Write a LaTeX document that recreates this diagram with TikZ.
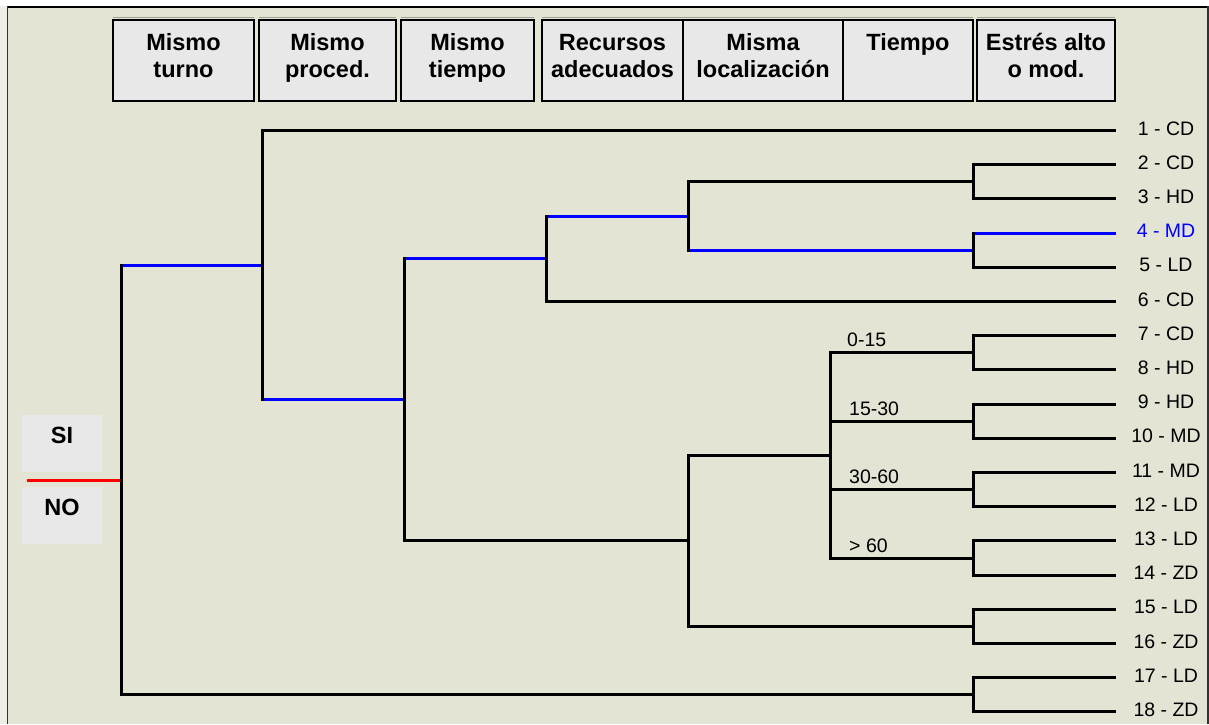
\documentclass[tikz,border=0pt]{standalone}
\usepackage{fontspec}
\setmainfont{Liberation Sans}
\usetikzlibrary{calc}
\definecolor{bg}{RGB}{228,228,212}
\definecolor{outer}{RGB}{238,238,228}
\definecolor{boxfill}{RGB}{232,232,232}
\definecolor{shadow}{RGB}{160,160,150}
\definecolor{treeblue}{RGB}{0,0,255}
\definecolor{treered}{RGB}{255,0,0}
\tikzset{
  hdrbox/.style={draw=black, line width=1.8pt, fill=boxfill, inner sep=0pt, minimum height=81pt},
  hdrtxt/.style={font=\fontsize{23.5}{27}\selectfont\bfseries, anchor=base, inner sep=0pt},
  sibox/.style={fill=boxfill, inner sep=0pt, minimum width=80pt, minimum height=57pt},
  leaftxt/.style={font=\fontsize{19.5}{22}\selectfont, anchor=base, inner sep=0pt},
  brtxt/.style={font=\fontsize{19.5}{22}\selectfont, anchor=base west, inner sep=0pt},
  edge/.style={line width=3pt, line cap=rect},
}
\begin{document}
\begin{tikzpicture}[x=1pt,y=-1pt]
\useasboundingbox (0,0) rectangle (1209,724);
% background and frame
\fill[outer] (0,0) rectangle (1209,724);
\fill[white] (0,0) rectangle (1209,6);
\fill[bg] (7,7) rectangle (1209,724);
\draw[black, line width=2pt] (7,6.5) -- (1209,6.5);
\draw[black!80, line width=1.2pt] (7.5,6) -- (7.5,724);
\draw[black!80, line width=1.2pt] (1208,6) -- (1208,724);

% header boxes
\foreach \n/\l/\r in {1/113/254, 2/259/396, 3/401/534, 4/542/683, 5/683/843, 6/843/973, 7/977/1115}{
  \draw[shadow, line width=1.5pt] (\l,17.5) -- (\r,17.5);
  \pgfmathsetmacro{\w}{\r-\l}
  \node[hdrbox, minimum width=\w pt] (h\n) at ({(\l+\r)/2},60.5) {};
}
\node[hdrtxt] (h1a) at (h1 |- 0,50) {Mismo};
\node[hdrtxt] (h1b) at (h1 |- 0,77) {turno};
\node[hdrtxt] (h2a) at (h2 |- 0,50) {Mismo};
\node[hdrtxt] (h2b) at (h2 |- 0,77) {proced.};
\node[hdrtxt] (h3a) at (h3 |- 0,50) {Mismo};
\node[hdrtxt] (h3b) at (h3 |- 0,77) {tiempo};
\node[hdrtxt] (h4a) at (h4 |- 0,50) {Recursos};
\node[hdrtxt] (h4b) at (h4 |- 0,77) {adecuados};
\node[hdrtxt] (h5a) at (h5 |- 0,50) {Misma};
\node[hdrtxt] (h5b) at (h5 |- 0,77) {localización};
\node[hdrtxt] (h6a) at (h6 |- 0,50) {Tiempo};
\node[hdrtxt] (h7a) at (h7 |- 0,50) {Estrés alto};
\node[hdrtxt] (h7b) at (h7 |- 0,77) {o mod.};

% SI / NO
\node[sibox] (si) at (62,443.5) {};
\node[sibox] (no) at (62,515.5) {};
\node[hdrtxt] (sit) at (62,443) {SI};
\node[hdrtxt] (not) at (62,515) {NO};

% tree coordinates
\coordinate (R) at (121,480);
\coordinate (A) at (262,265.2);
\coordinate (B) at (404,399.8);
\coordinate (C) at (546,258.75);
\coordinate (D) at (688,216);
\coordinate (E) at (973,181.8);
\coordinate (F) at (973,250.2);
\coordinate (G) at (688,540.9);
\coordinate (H) at (830,455.4);
\coordinate (H1) at (973,352.8);
\coordinate (H2) at (973,421.2);
\coordinate (H3) at (973,489.6);
\coordinate (H4) at (973,558);
\coordinate (Q) at (973,626.4);
\coordinate (Z) at (973,694.8);
\coordinate (S) at (28,480);
\foreach \k/\lab in {1/1 - CD, 2/2 - CD, 3/3 - HD, 5/5 - LD, 6/6 - CD, 7/7 - CD, 8/8 - HD, 9/9 - HD, 10/10 - MD, 11/11 - MD, 12/12 - LD, 13/13 - LD, 14/14 - ZD, 15/15 - LD, 16/16 - ZD, 17/17 - LD, 18/18 - ZD}{
  \pgfmathsetmacro{\yy}{130.5+(\k-1)*34.2}
  \coordinate (L\k) at (1114.5,\yy);
  \node[leaftxt] (t\k) at (1166,\yy+4.5) {\lab};
}
\coordinate (L4) at (1114.5,233.1);
\node[leaftxt, text=treeblue] (t4) at (1166,237.6) {4 - MD};

% horizontal branches
\draw[edge, treered] (S) -- (R);
\foreach \p/\c/\col in {R/A/treeblue, R/Z/black, A/L1/black, A/B/treeblue,
  B/C/treeblue, B/G/black, C/D/treeblue, C/L6/black, D/E/black, D/F/treeblue,
  E/L2/black, E/L3/black, F/L4/treeblue, F/L5/black, G/H/black, G/Q/black,
  H/H1/black, H/H2/black, H/H3/black, H/H4/black,
  H1/L7/black, H1/L8/black, H2/L9/black, H2/L10/black, H3/L11/black, H3/L12/black,
  H4/L13/black, H4/L14/black, Q/L15/black, Q/L16/black, Z/L17/black, Z/L18/black}{
  \draw[edge, \col] (\p |- \c) -- (\c);
}
% vertical bars
\foreach \p/\a/\b in {R/A/Z, A/L1/B, B/C/G, C/D/L6, D/E/F, E/L2/L3, F/L4/L5,
  G/H/Q, H/H1/H4, H1/L7/L8, H2/L9/L10, H3/L11/L12, H4/L13/L14, Q/L15/L16, Z/L17/L18}{
  \draw[edge, black] (\p |- \a) -- (\p |- \b);
}
% branch labels
\node[brtxt] (b1) at ($(H1)+(-126,-6)$) {0-15};
\node[brtxt] (b2) at ($(H2)+(-124,-6)$) {15-30};
\node[brtxt] (b3) at ($(H3)+(-124,-6)$) {30-60};
\node[brtxt] (b4) at ($(H4)+(-124,-6)$) {> 60};
\end{tikzpicture}
\end{document}
